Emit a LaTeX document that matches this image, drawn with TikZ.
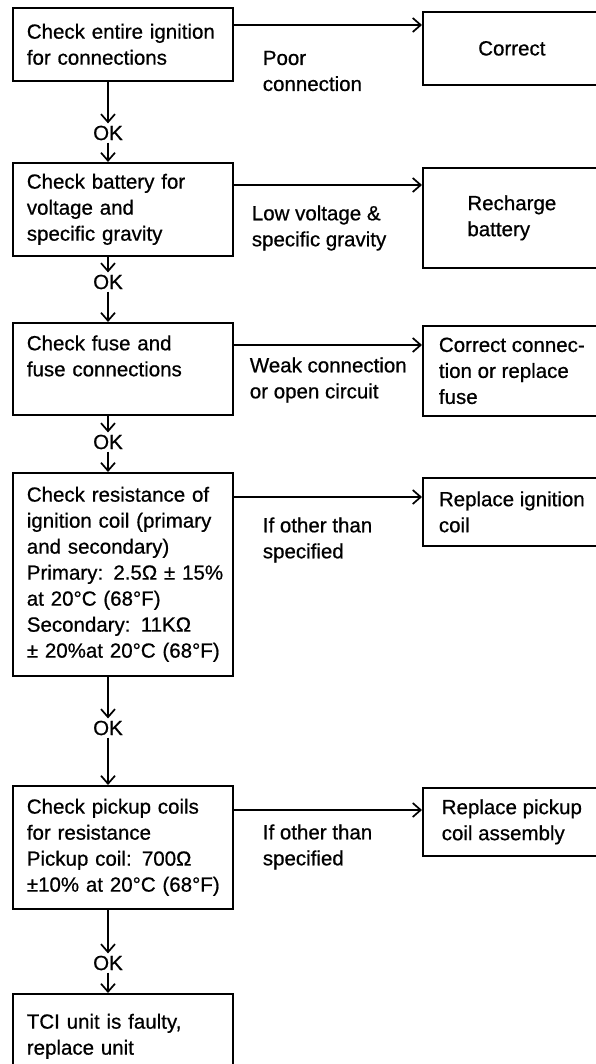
\documentclass[tikz,border=0pt]{standalone}
\usepackage{fontspec}
\setmainfont{Liberation Sans}[FakeBold=0.7]
\usetikzlibrary{arrows.meta}

\begin{document}
\begin{tikzpicture}[x=1pt,y=-1pt,
    font=\fontsize{20.5}{26}\selectfont,
    line width=1.7pt,
    test/.style={draw,anchor=north west,minimum width=220pt,text width=192pt,
      inner xsep=14pt,inner ysep=0pt,align=left},
    fix/.style={draw,anchor=north west,minimum width=178pt,inner sep=0pt,align=left},
    note/.style={anchor=west,inner sep=0pt,align=left},
    oklab/.style={inner sep=1.5pt},
    arr/.style={-{Straight Barb[length=8pt,width=14pt,line width=1.7pt]}}]
  \clip (0,0) rectangle (596,1064);
    \draw
    (12,7) node[test,minimum height=73pt](b1){Check entire ignition\\for connections}
    (12,162) node[test,minimum height=93pt](b2){Check battery for\\voltage and\\specific gravity}
    (12,322) node[test,minimum height=92pt](b3){Check fuse and\\fuse connections\\\mbox{}}
    (12,472) node[test,minimum height=203pt](b4){Check resistance of\\\mbox{ignition coil (primary}\\and secondary)\\\mbox{Primary: 2.5Ω ± 15\%}\\at 20°C (68°F)\\Secondary: 11KΩ\\\mbox{± 20\%at 20°C (68°F)}}
    (12,785) node[test,minimum height=123pt](b5){Check pickup coils\\for resistance\\\mbox{Pickup coil: 700Ω}\\\mbox{±10\% at 20°C (68°F)}}
    (12,993) node[test,minimum height=85pt](b6){TCI unit is faulty,\\replace unit};
    \draw
    (422,11) node[fix,minimum height=73pt](r1){Correct}
    (422,167) node[fix,minimum height=100pt](r2){Recharge\\battery}
    (422,325) node[fix,minimum height=90pt](r3){Correct connec-\\tion or replace\\fuse}
    (422,477) node[fix,minimum height=68pt](r4){Replace ignition\\coil}
    (422,787) node[fix,minimum height=68pt](r5){Replace pickup\\coil assembly};
    \draw
    (262,71) node[note](n1){Poor\\connection}
    (251,228) node[note](n2){Low voltage \&\\specific gravity}
    (249,380) node[note](n3){Weak connection\\or open circuit}
    (262,540) node[note](n4){If other than\\specified}
    (262,847) node[note](n5){If other than\\specified};
    \draw
    (108,133) node[oklab](ok1){OK}
    (108,282) node[oklab](ok2){OK}
    (108,442) node[oklab](ok3){OK}
    (108,728) node[oklab](ok4){OK}
    (108,963) node[oklab](ok5){OK};
  % side branches
  \coordinate (h1) at ([yshift=-18pt]b1.north east);
  \coordinate (h2) at ([yshift=-23pt]b2.north east);
  \coordinate (h3) at ([yshift=-23pt]b3.north east);
  \coordinate (h4) at ([yshift=-25pt]b4.north east);
  \coordinate (h5) at ([yshift=-25pt]b5.north east);
  \draw (h1) edge[arr] (h1 -| r1.west)
        (h2) edge[arr] (h2 -| r2.west)
        (h3) edge[arr] (h3 -| r3.west)
        (h4) edge[arr] (h4 -| r4.west)
        (h5) edge[arr] (h5 -| r5.west);
  % OK chain
  \draw (b1.south -| ok1) edge[arr] (ok1)
        (ok1) edge[arr] (ok1 |- b2.north)
        (b2.south -| ok2) edge[arr] (ok2)
        (ok2) edge[arr] (ok2 |- b3.north)
        (b3.south -| ok3) edge[arr] (ok3)
        (ok3) edge[arr] (ok3 |- b4.north)
        (b4.south -| ok4) edge[arr] (ok4)
        (ok4) edge[arr] (ok4 |- b5.north)
        (b5.south -| ok5) edge[arr] (ok5)
        (ok5) edge[arr] (ok5 |- b6.north);
\end{tikzpicture}
\end{document}
